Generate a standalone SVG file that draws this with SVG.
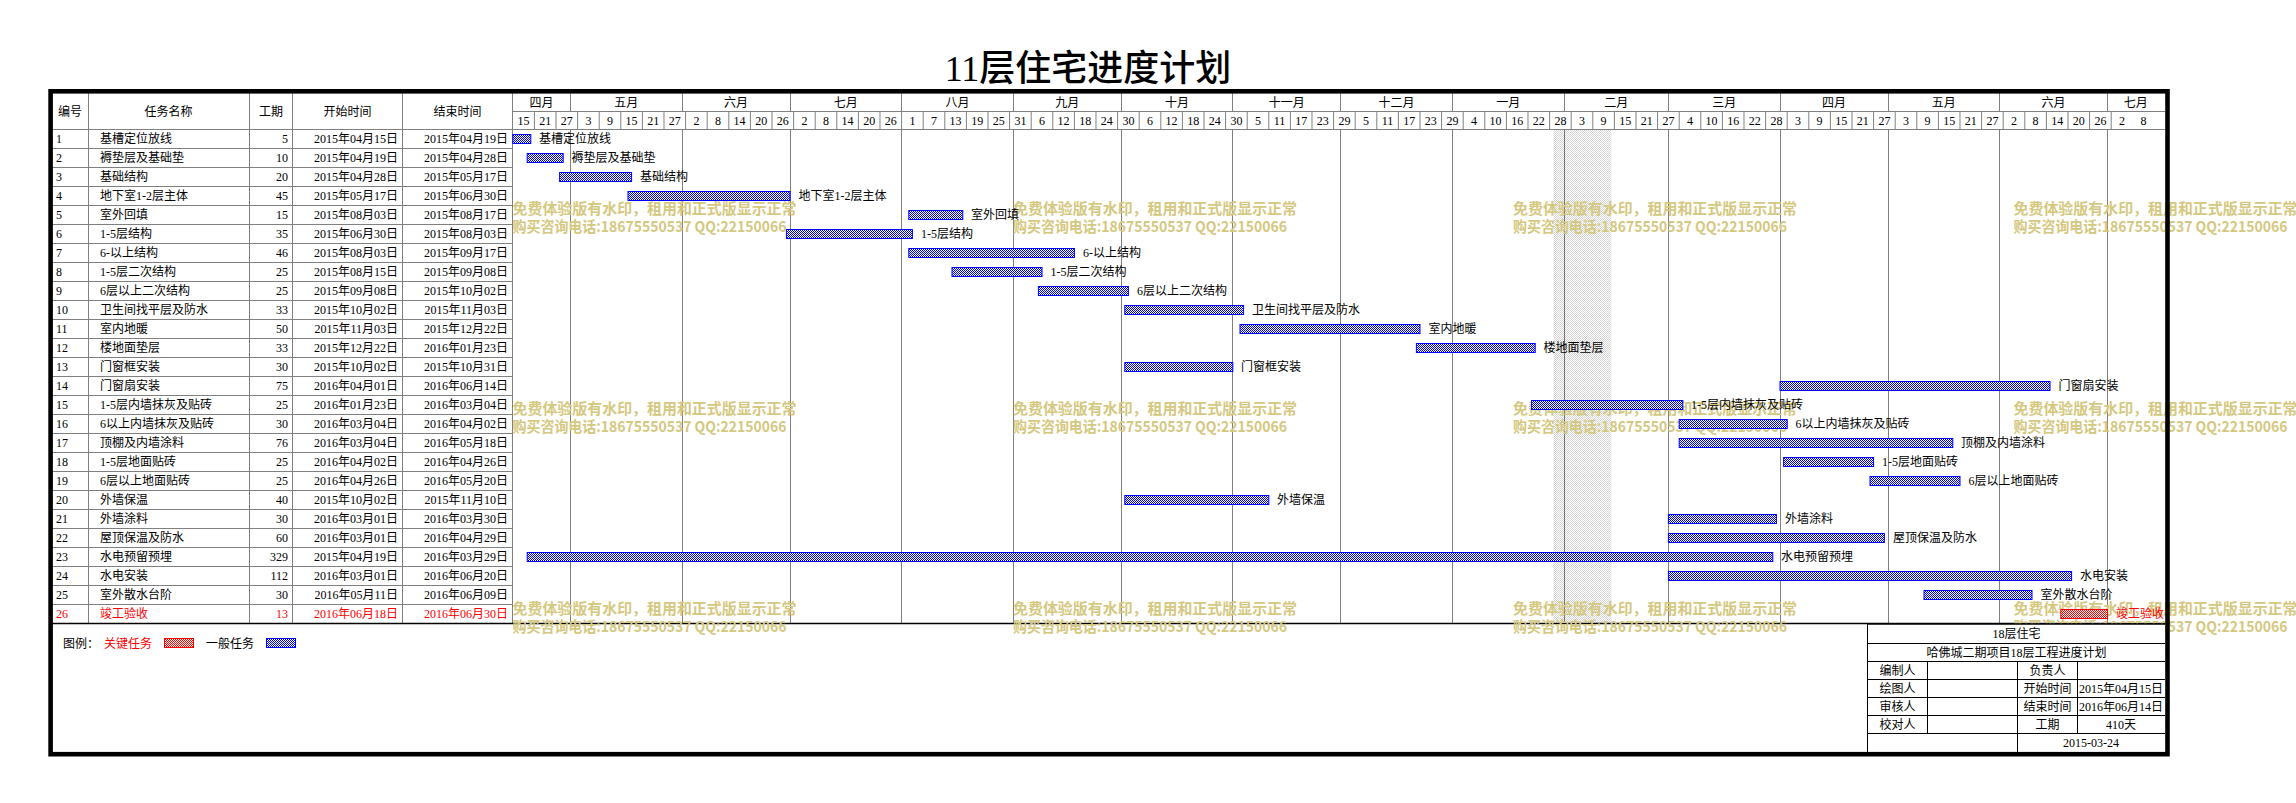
<svg xmlns="http://www.w3.org/2000/svg" width="2296" height="803" viewBox="0 0 2296 803">
<style>
.t{font-family:"Liberation Serif","Noto Sans CJK SC",serif;font-size:12px;fill:#000}
.c{text-anchor:middle}
.e{text-anchor:end}
.r{fill:#f00}
.g{stroke:#808080;stroke-width:1;fill:none}
.k{stroke:#000;stroke-width:1;fill:none}
.dot{stroke:#000;stroke-width:1;stroke-dasharray:1 1;fill:none}
.bar{fill:url(#pb);stroke:#00f;stroke-width:1}
.crit{fill:url(#pr);stroke:#f00;stroke-width:1}
.wm{font-family:"Noto Sans CJK SC",sans-serif;font-size:15px;font-weight:bold;fill:#d5c880}
.title{font-family:"Liberation Serif","Noto Sans CJK SC",serif;font-size:36px;font-weight:500;fill:#000;text-anchor:middle}
</style>
<defs>
<pattern id="pb" width="2" height="2" patternUnits="userSpaceOnUse"><rect width="2" height="2" fill="#fff"/><rect width="1" height="1" fill="#00f"/><rect x="1" y="1" width="1" height="1" fill="#00f"/></pattern>
<pattern id="pr" width="2" height="2" patternUnits="userSpaceOnUse"><rect width="2" height="2" fill="#fff"/><rect width="1" height="1" fill="#f00"/><rect x="1" y="1" width="1" height="1" fill="#f00"/></pattern>
<pattern id="ph" width="2" height="2" patternUnits="userSpaceOnUse"><rect width="2" height="2" fill="#fff"/><rect width="1" height="1" fill="#d4d4d4"/><rect x="1" y="1" width="1" height="1" fill="#d4d4d4"/></pattern>
</defs>
<rect width="2296" height="803" fill="#fff"/>
<text class="title" x="1088" y="81">11层住宅进度计划</text>

<g id="holiday"><rect x="1553.5" y="129.5" width="58" height="494" fill="url(#ph)"/></g>

<g id="month-lines">
<path class="dot" d="M570.5 129.5V623M682.5 129.5V623M790.5 129.5V623M901.5 129.5V623M1013.5 129.5V623M1121.5 129.5V623M1232.5 129.5V623M1340.5 129.5V623M1452.5 129.5V623M1564.5 129.5V623M1668.5 129.5V623M1780.5 129.5V623M1888.5 129.5V623M1999.5 129.5V623M2107.5 129.5V623"/>
</g>

<g id="grid">
<path class="g" d="M88.5 93V623.5M249.5 93V623.5M292.5 93V623.5M402.5 93V623.5M512.5 93V623.5"/>
<path class="g" d="M52 129.5H2165M52 148.5H512.5M52 167.5H512.5M52 186.5H512.5M52 205.5H512.5M52 224.5H512.5M52 243.5H512.5M52 262.5H512.5M52 281.5H512.5M52 300.5H512.5M52 319.5H512.5M52 338.5H512.5M52 357.5H512.5M52 376.5H512.5M52 395.5H512.5M52 414.5H512.5M52 433.5H512.5M52 452.5H512.5M52 471.5H512.5M52 490.5H512.5M52 509.5H512.5M52 528.5H512.5M52 547.5H512.5M52 566.5H512.5M52 585.5H512.5M52 604.5H512.5"/>
<path class="g" d="M512.5 111.5H2165"/>
<path class="g" d="M570.5 93V111.5M682.5 93V111.5M790.5 93V111.5M901.5 93V111.5M1013.5 93V111.5M1121.5 93V111.5M1232.5 93V111.5M1340.5 93V111.5M1452.5 93V111.5M1564.5 93V111.5M1668.5 93V111.5M1780.5 93V111.5M1888.5 93V111.5M1999.5 93V111.5M2107.5 93V111.5"/>
<path class="g" d="M534.4 111.5v18m21.6-18v18m21.6-18v18m21.6-18v18m21.6-18v18m21.6-18v18m21.6-18v18m21.6-18v18m21.6-18v18m21.6-18v18m21.6-18v18m21.6-18v18m21.6-18v18m21.6-18v18m21.6-18v18m21.6-18v18m21.6-18v18m21.6-18v18m21.6-18v18m21.6-18v18m21.6-18v18m21.6-18v18m21.6-18v18m21.6-18v18m21.6-18v18m21.6-18v18m21.6-18v18m21.6-18v18m21.6-18v18m21.6-18v18m21.6-18v18m21.6-18v18m21.6-18v18m21.6-18v18m21.6-18v18m21.6-18v18m21.6-18v18m21.6-18v18m21.6-18v18m21.6-18v18m21.6-18v18m21.6-18v18m21.6-18v18m21.6-18v18m21.6-18v18m21.6-18v18m21.6-18v18m21.6-18v18m21.6-18v18m21.6-18v18m21.6-18v18m21.6-18v18m21.6-18v18m21.6-18v18m21.6-18v18m21.6-18v18m21.6-18v18m21.6-18v18m21.6-18v18m21.6-18v18m21.6-18v18m21.6-18v18m21.6-18v18m21.6-18v18m21.6-18v18m21.6-18v18m21.6-18v18m21.6-18v18m21.6-18v18m21.6-18v18m21.6-18v18m21.6-18v18m21.6-18v18m21.6-18v18"/>
<path stroke="#000" stroke-width="1.5" d="M52 623.5H2165"/>
</g>

<g id="header" class="t">
<text class="t c" x="70" y="116">编号</text>
<text class="t c" x="168.5" y="116">任务名称</text>
<text class="t c" x="271" y="116">工期</text>
<text class="t c" x="347.5" y="116">开始时间</text>
<text class="t c" x="457.5" y="116">结束时间</text>
<text class="t c" x="541.6" y="106.5">四月</text>
<text class="t c" x="626.2" y="106.5">五月</text>
<text class="t c" x="736" y="106.5">六月</text>
<text class="t c" x="845.8" y="106.5">七月</text>
<text class="t c" x="957.4" y="106.5">八月</text>
<text class="t c" x="1067.2" y="106.5">九月</text>
<text class="t c" x="1177" y="106.5">十月</text>
<text class="t c" x="1286.8" y="106.5">十一月</text>
<text class="t c" x="1396.6" y="106.5">十二月</text>
<text class="t c" x="1508.2" y="106.5">一月</text>
<text class="t c" x="1616.2" y="106.5">二月</text>
<text class="t c" x="1724.2" y="106.5">三月</text>
<text class="t c" x="1834" y="106.5">四月</text>
<text class="t c" x="1943.8" y="106.5">五月</text>
<text class="t c" x="2053.6" y="106.5">六月</text>
<text class="t c" x="2135.8" y="106.5">七月</text>
<text class="t c" x="523.6" y="124.5">15</text>
<text class="t c" x="545.2" y="124.5">21</text>
<text class="t c" x="566.8" y="124.5">27</text>
<text class="t c" x="588.4" y="124.5">3</text>
<text class="t c" x="610" y="124.5">9</text>
<text class="t c" x="631.6" y="124.5">15</text>
<text class="t c" x="653.2" y="124.5">21</text>
<text class="t c" x="674.8" y="124.5">27</text>
<text class="t c" x="696.4" y="124.5">2</text>
<text class="t c" x="718" y="124.5">8</text>
<text class="t c" x="739.6" y="124.5">14</text>
<text class="t c" x="761.2" y="124.5">20</text>
<text class="t c" x="782.8" y="124.5">26</text>
<text class="t c" x="804.4" y="124.5">2</text>
<text class="t c" x="826" y="124.5">8</text>
<text class="t c" x="847.6" y="124.5">14</text>
<text class="t c" x="869.2" y="124.5">20</text>
<text class="t c" x="890.8" y="124.5">26</text>
<text class="t c" x="912.4" y="124.5">1</text>
<text class="t c" x="934" y="124.5">7</text>
<text class="t c" x="955.6" y="124.5">13</text>
<text class="t c" x="977.2" y="124.5">19</text>
<text class="t c" x="998.8" y="124.5">25</text>
<text class="t c" x="1020.4" y="124.5">31</text>
<text class="t c" x="1042" y="124.5">6</text>
<text class="t c" x="1063.6" y="124.5">12</text>
<text class="t c" x="1085.2" y="124.5">18</text>
<text class="t c" x="1106.8" y="124.5">24</text>
<text class="t c" x="1128.4" y="124.5">30</text>
<text class="t c" x="1150" y="124.5">6</text>
<text class="t c" x="1171.6" y="124.5">12</text>
<text class="t c" x="1193.2" y="124.5">18</text>
<text class="t c" x="1214.8" y="124.5">24</text>
<text class="t c" x="1236.4" y="124.5">30</text>
<text class="t c" x="1258" y="124.5">5</text>
<text class="t c" x="1279.6" y="124.5">11</text>
<text class="t c" x="1301.2" y="124.5">17</text>
<text class="t c" x="1322.8" y="124.5">23</text>
<text class="t c" x="1344.4" y="124.5">29</text>
<text class="t c" x="1366" y="124.5">5</text>
<text class="t c" x="1387.6" y="124.5">11</text>
<text class="t c" x="1409.2" y="124.5">17</text>
<text class="t c" x="1430.8" y="124.5">23</text>
<text class="t c" x="1452.4" y="124.5">29</text>
<text class="t c" x="1474" y="124.5">4</text>
<text class="t c" x="1495.6" y="124.5">10</text>
<text class="t c" x="1517.2" y="124.5">16</text>
<text class="t c" x="1538.8" y="124.5">22</text>
<text class="t c" x="1560.4" y="124.5">28</text>
<text class="t c" x="1582" y="124.5">3</text>
<text class="t c" x="1603.6" y="124.5">9</text>
<text class="t c" x="1625.2" y="124.5">15</text>
<text class="t c" x="1646.8" y="124.5">21</text>
<text class="t c" x="1668.4" y="124.5">27</text>
<text class="t c" x="1690" y="124.5">4</text>
<text class="t c" x="1711.6" y="124.5">10</text>
<text class="t c" x="1733.2" y="124.5">16</text>
<text class="t c" x="1754.8" y="124.5">22</text>
<text class="t c" x="1776.4" y="124.5">28</text>
<text class="t c" x="1798" y="124.5">3</text>
<text class="t c" x="1819.6" y="124.5">9</text>
<text class="t c" x="1841.2" y="124.5">15</text>
<text class="t c" x="1862.8" y="124.5">21</text>
<text class="t c" x="1884.4" y="124.5">27</text>
<text class="t c" x="1906" y="124.5">3</text>
<text class="t c" x="1927.6" y="124.5">9</text>
<text class="t c" x="1949.2" y="124.5">15</text>
<text class="t c" x="1970.8" y="124.5">21</text>
<text class="t c" x="1992.4" y="124.5">27</text>
<text class="t c" x="2014" y="124.5">2</text>
<text class="t c" x="2035.6" y="124.5">8</text>
<text class="t c" x="2057.2" y="124.5">14</text>
<text class="t c" x="2078.8" y="124.5">20</text>
<text class="t c" x="2100.4" y="124.5">26</text>
<text class="t c" x="2122" y="124.5">2</text>
<text class="t c" x="2143.6" y="124.5">8</text>
</g>

<g id="watermark" class="wm">
<text class="wm" x="512.5" y="214" textLength="284" lengthAdjust="spacingAndGlyphs">免费体验版有水印，租用和正式版显示正常</text>
<text class="wm" x="512.5" y="232" textLength="274" lengthAdjust="spacingAndGlyphs">购买咨询电话:18675550537 QQ:22150066</text>
<text class="wm" x="1013" y="214" textLength="284" lengthAdjust="spacingAndGlyphs">免费体验版有水印，租用和正式版显示正常</text>
<text class="wm" x="1013" y="232" textLength="274" lengthAdjust="spacingAndGlyphs">购买咨询电话:18675550537 QQ:22150066</text>
<text class="wm" x="1513" y="214" textLength="284" lengthAdjust="spacingAndGlyphs">免费体验版有水印，租用和正式版显示正常</text>
<text class="wm" x="1513" y="232" textLength="274" lengthAdjust="spacingAndGlyphs">购买咨询电话:18675550537 QQ:22150066</text>
<text class="wm" x="2013.5" y="214" textLength="284" lengthAdjust="spacingAndGlyphs">免费体验版有水印，租用和正式版显示正常</text>
<text class="wm" x="2013.5" y="232" textLength="274" lengthAdjust="spacingAndGlyphs">购买咨询电话:18675550537 QQ:22150066</text>
<text class="wm" x="512.5" y="414" textLength="284" lengthAdjust="spacingAndGlyphs">免费体验版有水印，租用和正式版显示正常</text>
<text class="wm" x="512.5" y="432" textLength="274" lengthAdjust="spacingAndGlyphs">购买咨询电话:18675550537 QQ:22150066</text>
<text class="wm" x="1013" y="414" textLength="284" lengthAdjust="spacingAndGlyphs">免费体验版有水印，租用和正式版显示正常</text>
<text class="wm" x="1013" y="432" textLength="274" lengthAdjust="spacingAndGlyphs">购买咨询电话:18675550537 QQ:22150066</text>
<text class="wm" x="1513" y="414" textLength="284" lengthAdjust="spacingAndGlyphs">免费体验版有水印，租用和正式版显示正常</text>
<text class="wm" x="1513" y="432" textLength="274" lengthAdjust="spacingAndGlyphs">购买咨询电话:18675550537 QQ:22150066</text>
<text class="wm" x="2013.5" y="414" textLength="284" lengthAdjust="spacingAndGlyphs">免费体验版有水印，租用和正式版显示正常</text>
<text class="wm" x="2013.5" y="432" textLength="274" lengthAdjust="spacingAndGlyphs">购买咨询电话:18675550537 QQ:22150066</text>
<text class="wm" x="512.5" y="614" textLength="284" lengthAdjust="spacingAndGlyphs">免费体验版有水印，租用和正式版显示正常</text>
<text class="wm" x="512.5" y="632" textLength="274" lengthAdjust="spacingAndGlyphs">购买咨询电话:18675550537 QQ:22150066</text>
<text class="wm" x="1013" y="614" textLength="284" lengthAdjust="spacingAndGlyphs">免费体验版有水印，租用和正式版显示正常</text>
<text class="wm" x="1013" y="632" textLength="274" lengthAdjust="spacingAndGlyphs">购买咨询电话:18675550537 QQ:22150066</text>
<text class="wm" x="1513" y="614" textLength="284" lengthAdjust="spacingAndGlyphs">免费体验版有水印，租用和正式版显示正常</text>
<text class="wm" x="1513" y="632" textLength="274" lengthAdjust="spacingAndGlyphs">购买咨询电话:18675550537 QQ:22150066</text>
<text class="wm" x="2013.5" y="614" textLength="284" lengthAdjust="spacingAndGlyphs">免费体验版有水印，租用和正式版显示正常</text>
<text class="wm" x="2013.5" y="632" textLength="274" lengthAdjust="spacingAndGlyphs">购买咨询电话:18675550537 QQ:22150066</text>
</g>

<g id="tasks">
<g id="task-1"><text class="t" x="56" y="143">1</text><text class="t" x="100" y="143">基槽定位放线</text><text class="t e" x="288" y="143">5</text><text class="t e" x="398" y="143">2015年04月15日</text><text class="t e" x="508" y="143">2015年04月19日</text><rect class="bar" x="512.8" y="134.5" width="18" height="9"/><text class="t" x="539" y="143">基槽定位放线</text></g>
<g id="task-2"><text class="t" x="56" y="162">2</text><text class="t" x="100" y="162">褥垫层及基础垫</text><text class="t e" x="288" y="162">10</text><text class="t e" x="398" y="162">2015年04月19日</text><text class="t e" x="508" y="162">2015年04月28日</text><rect class="bar" x="527.2" y="153.5" width="36" height="9"/><text class="t" x="571.5" y="162">褥垫层及基础垫</text></g>
<g id="task-3"><text class="t" x="56" y="181">3</text><text class="t" x="100" y="181">基础结构</text><text class="t e" x="288" y="181">20</text><text class="t e" x="398" y="181">2015年04月28日</text><text class="t e" x="508" y="181">2015年05月17日</text><rect class="bar" x="559.6" y="172.5" width="72" height="9"/><text class="t" x="640" y="181">基础结构</text></g>
<g id="task-4"><text class="t" x="56" y="200">4</text><text class="t" x="100" y="200">地下室1-2层主体</text><text class="t e" x="288" y="200">45</text><text class="t e" x="398" y="200">2015年05月17日</text><text class="t e" x="508" y="200">2015年06月30日</text><rect class="bar" x="628" y="191.5" width="162" height="9"/><text class="t" x="798.5" y="200">地下室1-2层主体</text></g>
<g id="task-5"><text class="t" x="56" y="219">5</text><text class="t" x="100" y="219">室外回填</text><text class="t e" x="288" y="219">15</text><text class="t e" x="398" y="219">2015年08月03日</text><text class="t e" x="508" y="219">2015年08月17日</text><rect class="bar" x="908.8" y="210.5" width="54" height="9"/><text class="t" x="971" y="219">室外回填</text></g>
<g id="task-6"><text class="t" x="56" y="238">6</text><text class="t" x="100" y="238">1-5层结构</text><text class="t e" x="288" y="238">35</text><text class="t e" x="398" y="238">2015年06月30日</text><text class="t e" x="508" y="238">2015年08月03日</text><rect class="bar" x="786.4" y="229.5" width="126" height="9"/><text class="t" x="921" y="238">1-5层结构</text></g>
<g id="task-7"><text class="t" x="56" y="257">7</text><text class="t" x="100" y="257">6-以上结构</text><text class="t e" x="288" y="257">46</text><text class="t e" x="398" y="257">2015年08月03日</text><text class="t e" x="508" y="257">2015年09月17日</text><rect class="bar" x="908.8" y="248.5" width="165.6" height="9"/><text class="t" x="1083" y="257">6-以上结构</text></g>
<g id="task-8"><text class="t" x="56" y="276">8</text><text class="t" x="100" y="276">1-5层二次结构</text><text class="t e" x="288" y="276">25</text><text class="t e" x="398" y="276">2015年08月15日</text><text class="t e" x="508" y="276">2015年09月08日</text><rect class="bar" x="952" y="267.5" width="90" height="9"/><text class="t" x="1050.5" y="276">1-5层二次结构</text></g>
<g id="task-9"><text class="t" x="56" y="295">9</text><text class="t" x="100" y="295">6层以上二次结构</text><text class="t e" x="288" y="295">25</text><text class="t e" x="398" y="295">2015年09月08日</text><text class="t e" x="508" y="295">2015年10月02日</text><rect class="bar" x="1038.4" y="286.5" width="90" height="9"/><text class="t" x="1137" y="295">6层以上二次结构</text></g>
<g id="task-10"><text class="t" x="56" y="314">10</text><text class="t" x="100" y="314">卫生间找平层及防水</text><text class="t e" x="288" y="314">33</text><text class="t e" x="398" y="314">2015年10月02日</text><text class="t e" x="508" y="314">2015年11月03日</text><rect class="bar" x="1124.8" y="305.5" width="118.8" height="9"/><text class="t" x="1252" y="314">卫生间找平层及防水</text></g>
<g id="task-11"><text class="t" x="56" y="333">11</text><text class="t" x="100" y="333">室内地暖</text><text class="t e" x="288" y="333">50</text><text class="t e" x="398" y="333">2015年11月03日</text><text class="t e" x="508" y="333">2015年12月22日</text><rect class="bar" x="1240" y="324.5" width="180" height="9"/><text class="t" x="1428.5" y="333">室内地暖</text></g>
<g id="task-12"><text class="t" x="56" y="352">12</text><text class="t" x="100" y="352">楼地面垫层</text><text class="t e" x="288" y="352">33</text><text class="t e" x="398" y="352">2015年12月22日</text><text class="t e" x="508" y="352">2016年01月23日</text><rect class="bar" x="1416.4" y="343.5" width="118.8" height="9"/><text class="t" x="1543.5" y="352">楼地面垫层</text></g>
<g id="task-13"><text class="t" x="56" y="371">13</text><text class="t" x="100" y="371">门窗框安装</text><text class="t e" x="288" y="371">30</text><text class="t e" x="398" y="371">2015年10月02日</text><text class="t e" x="508" y="371">2015年10月31日</text><rect class="bar" x="1124.8" y="362.5" width="108" height="9"/><text class="t" x="1241" y="371">门窗框安装</text></g>
<g id="task-14"><text class="t" x="56" y="390">14</text><text class="t" x="100" y="390">门窗扇安装</text><text class="t e" x="288" y="390">75</text><text class="t e" x="398" y="390">2016年04月01日</text><text class="t e" x="508" y="390">2016年06月14日</text><rect class="bar" x="1780" y="381.5" width="270" height="9"/><text class="t" x="2058.5" y="390">门窗扇安装</text></g>
<g id="task-15"><text class="t" x="56" y="409">15</text><text class="t" x="100" y="409">1-5层内墙抹灰及贴砖</text><text class="t e" x="288" y="409">25</text><text class="t e" x="398" y="409">2016年01月23日</text><text class="t e" x="508" y="409">2016年03月04日</text><rect class="bar" x="1531.6" y="400.5" width="151.2" height="9"/><text class="t" x="1691" y="409">1-5层内墙抹灰及贴砖</text></g>
<g id="task-16"><text class="t" x="56" y="428">16</text><text class="t" x="100" y="428">6以上内墙抹灰及贴砖</text><text class="t e" x="288" y="428">30</text><text class="t e" x="398" y="428">2016年03月04日</text><text class="t e" x="508" y="428">2016年04月02日</text><rect class="bar" x="1679.2" y="419.5" width="108" height="9"/><text class="t" x="1795.5" y="428">6以上内墙抹灰及贴砖</text></g>
<g id="task-17"><text class="t" x="56" y="447">17</text><text class="t" x="100" y="447">顶棚及内墙涂料</text><text class="t e" x="288" y="447">76</text><text class="t e" x="398" y="447">2016年03月04日</text><text class="t e" x="508" y="447">2016年05月18日</text><rect class="bar" x="1679.2" y="438.5" width="273.6" height="9"/><text class="t" x="1961" y="447">顶棚及内墙涂料</text></g>
<g id="task-18"><text class="t" x="56" y="466">18</text><text class="t" x="100" y="466">1-5层地面贴砖</text><text class="t e" x="288" y="466">25</text><text class="t e" x="398" y="466">2016年04月02日</text><text class="t e" x="508" y="466">2016年04月26日</text><rect class="bar" x="1783.6" y="457.5" width="90" height="9"/><text class="t" x="1882" y="466">1-5层地面贴砖</text></g>
<g id="task-19"><text class="t" x="56" y="485">19</text><text class="t" x="100" y="485">6层以上地面贴砖</text><text class="t e" x="288" y="485">25</text><text class="t e" x="398" y="485">2016年04月26日</text><text class="t e" x="508" y="485">2016年05月20日</text><rect class="bar" x="1870" y="476.5" width="90" height="9"/><text class="t" x="1968.5" y="485">6层以上地面贴砖</text></g>
<g id="task-20"><text class="t" x="56" y="504">20</text><text class="t" x="100" y="504">外墙保温</text><text class="t e" x="288" y="504">40</text><text class="t e" x="398" y="504">2015年10月02日</text><text class="t e" x="508" y="504">2015年11月10日</text><rect class="bar" x="1124.8" y="495.5" width="144" height="9"/><text class="t" x="1277" y="504">外墙保温</text></g>
<g id="task-21"><text class="t" x="56" y="523">21</text><text class="t" x="100" y="523">外墙涂料</text><text class="t e" x="288" y="523">30</text><text class="t e" x="398" y="523">2016年03月01日</text><text class="t e" x="508" y="523">2016年03月30日</text><rect class="bar" x="1668.4" y="514.5" width="108" height="9"/><text class="t" x="1785" y="523">外墙涂料</text></g>
<g id="task-22"><text class="t" x="56" y="542">22</text><text class="t" x="100" y="542">屋顶保温及防水</text><text class="t e" x="288" y="542">60</text><text class="t e" x="398" y="542">2016年03月01日</text><text class="t e" x="508" y="542">2016年04月29日</text><rect class="bar" x="1668.4" y="533.5" width="216" height="9"/><text class="t" x="1893" y="542">屋顶保温及防水</text></g>
<g id="task-23"><text class="t" x="56" y="561">23</text><text class="t" x="100" y="561">水电预留预埋</text><text class="t e" x="288" y="561">329</text><text class="t e" x="398" y="561">2015年04月19日</text><text class="t e" x="508" y="561">2016年03月29日</text><rect class="bar" x="527.2" y="552.5" width="1245.6" height="9"/><text class="t" x="1781" y="561">水电预留预埋</text></g>
<g id="task-24"><text class="t" x="56" y="580">24</text><text class="t" x="100" y="580">水电安装</text><text class="t e" x="288" y="580">112</text><text class="t e" x="398" y="580">2016年03月01日</text><text class="t e" x="508" y="580">2016年06月20日</text><rect class="bar" x="1668.4" y="571.5" width="403.2" height="9"/><text class="t" x="2080" y="580">水电安装</text></g>
<g id="task-25"><text class="t" x="56" y="599">25</text><text class="t" x="100" y="599">室外散水台阶</text><text class="t e" x="288" y="599">30</text><text class="t e" x="398" y="599">2016年05月11日</text><text class="t e" x="508" y="599">2016年06月09日</text><rect class="bar" x="1924" y="590.5" width="108" height="9"/><text class="t" x="2040.5" y="599">室外散水台阶</text></g>
<g id="task-26"><text class="t r" x="56" y="618">26</text><text class="t r" x="100" y="618">竣工验收</text><text class="t e r" x="288" y="618">13</text><text class="t e r" x="398" y="618">2016年06月18日</text><text class="t e r" x="508" y="618">2016年06月30日</text><rect class="crit" x="2060.8" y="609.5" width="46.8" height="9"/><text class="t r" x="2116" y="618">竣工验收</text></g>
</g>

<g id="legend">
<text class="t" x="63" y="647.5">图例：</text>
<text class="t r" x="104" y="647.5">关键任务</text>
<rect class="crit" x="164.5" y="638.5" width="29" height="9"/>
<text class="t" x="206" y="647.5">一般任务</text>
<rect class="bar" x="266.5" y="638.5" width="29" height="9"/>
</g>

<g id="info-box">
<rect x="1867.5" y="624" width="297.5" height="128" fill="#fff"/>
<path class="k" d="M1867.5 624V752M1867.5 643.5H2165M1867.5 661.5H2165M1867.5 679.5H2165M1867.5 697.5H2165M1867.5 715.5H2165M1867.5 733.5H2165M1927.5 661.5V733.5M2017.5 661.5V752M2077.5 661.5V733.5"/>
<path stroke="#000" stroke-width="1.5" d="M1867 624H2165"/>
<text class="t c" x="2016.5" y="638">18层住宅</text>
<text class="t c" x="2016.5" y="656.5">哈佛城二期项目18层工程进度计划</text>
<text class="t c" x="1897.5" y="674.5">编制人</text>
<text class="t c" x="2047.5" y="674.5">负责人</text>
<text class="t c" x="1897.5" y="692.5">绘图人</text>
<text class="t c" x="2047.5" y="692.5">开始时间</text>
<text class="t c" x="2121" y="692.5">2015年04月15日</text>
<text class="t c" x="1897.5" y="710.5">审核人</text>
<text class="t c" x="2047.5" y="710.5">结束时间</text>
<text class="t c" x="2121" y="710.5">2016年06月14日</text>
<text class="t c" x="1897.5" y="728.5">校对人</text>
<text class="t c" x="2047.5" y="728.5">工期</text>
<text class="t c" x="2121" y="728.5">410天</text>
<text class="t c" x="2091" y="747">2015-03-24</text>
</g>

<g id="frame">
<rect x="50.6" y="91.3" width="2116.9" height="662.9" fill="none" stroke="#000" stroke-width="4.6"/>
</g>
</svg>
